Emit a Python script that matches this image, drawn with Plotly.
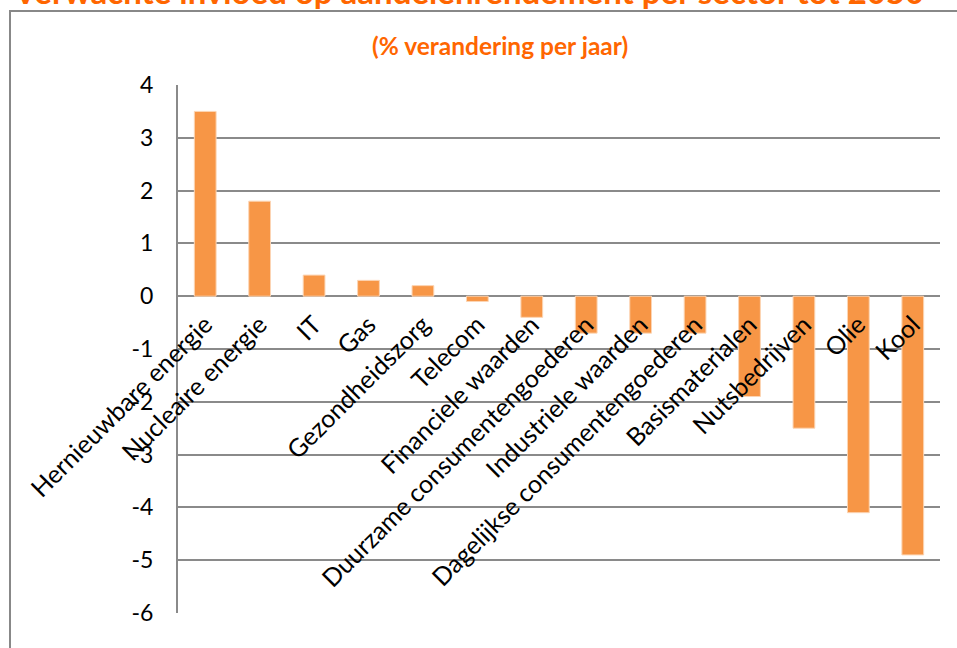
import plotly.graph_objects as go

categories = ["Hernieuwbare energie", "Nucleaire energie", "IT", "Gas", "Gezondheidszorg",
              "Telecom", "Financiele waarden", "Duurzame consumentengoederen",
              "Industriele waarden", "Dagelijkse consumentengoederen", "Basismaterialen",
              "Nutsbedrijven", "Olie", "Kool"]
values = [3.5, 1.8, 0.4, 0.3, 0.2, -0.1, -0.4, -0.7, -0.7, -0.7, -1.9, -2.5, -4.1, -4.9]
y_ticks = [4, 3, 2, 1, 0, -1, -2, -3, -4, -5, -6]
y_tick_labels = ["4", "3", "2", "1", "0", "-1", "-2", "-3", "-4", "-5", "-6"]
title_text = "Verwachte invloed op aandelenrendement per sector tot 2050"
subtitle_text = "(% verandering per jaar)"

W, H = 957, 648
# plot area in screen pixels: x 178..940, y 85..613
L, R, T, B = 178, W - 940, 85, H - 613
pw, ph = W - L - R, H - T - B

def px_x(xs):
    return (xs - L) / pw

def px_y(ys):
    return (H - B - ys) / ph

grid = "#8a8a8a"
orange = "#FF6600"
font_fam = "Lato, Liberation Sans, sans-serif"

fig = go.Figure()
fig.add_trace(go.Bar(
    x=categories, y=values,
    marker=dict(color="#F79646", line=dict(color="#FCD5B4", width=1)),
))

fig.update_layout(
    width=W, height=H,
    margin=dict(l=L, r=R, t=T, b=B),
    paper_bgcolor="white", plot_bgcolor="white",
    showlegend=False,
    bargap=0.6,
    xaxis=dict(
        anchor="free", position=0.6,
        showgrid=False, showline=False, zeroline=False,
        tickangle=-45, ticks="", ticklabelstandoff=8,
        tickfont=dict(family=font_fam, size=25, color="black"),
    ),
    yaxis=dict(
        range=[-6, 4], tickvals=y_ticks, ticktext=y_tick_labels,
        showgrid=True, gridcolor=grid, gridwidth=2,
        zeroline=True, zerolinecolor=grid, zerolinewidth=2,
        showline=True, linecolor=grid, linewidth=2,
        ticks="", ticklabelstandoff=18,
        tickfont=dict(family=font_fam, size=23, color="black"),
    ),
    shapes=[dict(type="rect", xref="paper", yref="paper",
                 x0=px_x(10), x1=px_x(W + 20), y0=px_y(H + 20), y1=px_y(11),
                 line=dict(color="#888888", width=2), fillcolor="rgba(0,0,0,0)",
                 layer="below")],
    annotations=[
        dict(text="<b>" + title_text + "</b>", xref="paper", yref="paper",
             x=px_x(468), y=px_y(-9), xanchor="center", yanchor="middle",
             showarrow=False, font=dict(family=font_fam, size=33, color=orange)),
        dict(text="<b>" + subtitle_text + "</b>", xref="paper", yref="paper",
             x=px_x(500), y=px_y(46), xanchor="center", yanchor="middle",
             showarrow=False, font=dict(family=font_fam, size=24.5, color=orange)),
    ],
)

fig.write_html("out.html", config={"displayModeBar": False},
               post_script="document.body.style.margin='0';")
